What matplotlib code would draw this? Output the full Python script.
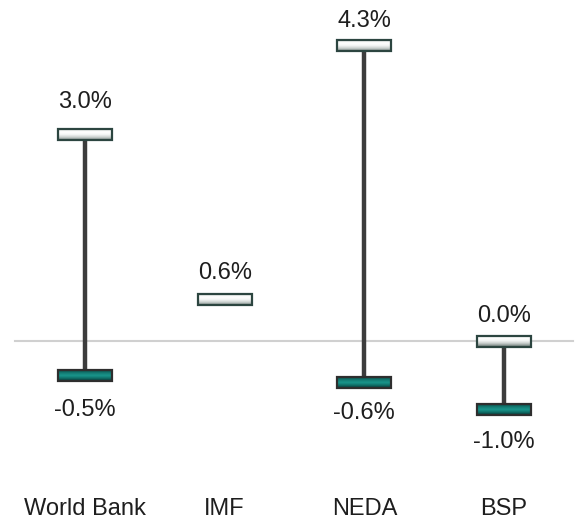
import numpy as np
import matplotlib
matplotlib.use("Agg")
import matplotlib.pyplot as plt
from matplotlib.colors import LinearSegmentedColormap
from matplotlib.patches import Rectangle

categories = ["World Bank", "IMF", "NEDA", "BSP"]
high_values = [3.0, 0.6, 4.3, 0.0]
low_values = [-0.5, None, -0.6, -1.0]
high_labels = ["3.0%", "0.6%", "4.3%", "0.0%"]
low_labels = ["-0.5%", None, "-0.6%", "-1.0%"]

# label distance from cap centre, in pixels (styling)
high_gap_px = [35, 29, 27, 27]
low_gap_px = [32, 0, 28, 30]

plt.rcParams['font.family'] = ['Liberation Sans', 'DejaVu Sans']

fig = plt.figure(figsize=(5.77, 5.23), dpi=100)
ax = fig.add_axes([0, 33 / 523, 1, 490 / 523])

px_x = 139.67
px_y = 68.67
xlim = (-85 / px_x, (577 - 85) / px_x)
ylim = (-(490 - 341) / px_y, 341 / px_y)

cap_w = 54 / px_x
cap_h = 11 / px_y

light_cmap = LinearSegmentedColormap.from_list(
    "light", ["#7d8a86", "#c9cfcd", "#f4f6f5", "#ffffff", "#dfe4e2"])
teal_cmap = LinearSegmentedColormap.from_list(
    "teal", ["#073a36", "#0f6e67", "#1a968c", "#127a72", "#0a4f4a"])
grad = np.linspace(0, 1, 64).reshape(-1, 1)

ax.axhline(0, color="#d0d0d0", lw=1.5, zorder=1, xmin=15 / 577, xmax=573 / 577)


def draw_cap(x, y, cmap, edge):
    ax.imshow(grad, extent=[x - cap_w / 2, x + cap_w / 2, y - cap_h / 2, y + cap_h / 2],
              cmap=cmap, aspect='auto', origin='lower', zorder=4, interpolation='bilinear')
    ax.add_patch(Rectangle((x - cap_w / 2, y - cap_h / 2), cap_w, cap_h,
                           fill=False, edgecolor=edge, lw=1.6, zorder=5))


FS = 17
for i, cat in enumerate(categories):
    hi = high_values[i]
    lo = low_values[i]
    if lo is not None:
        ax.plot([i, i], [lo, hi], color="#3c3c3c", lw=3.2, zorder=2, solid_capstyle='butt')
    draw_cap(i, hi, light_cmap, "#2c4540")
    ax.annotate(high_labels[i], (i, hi), xytext=(0, high_gap_px[i] * 0.72),
                textcoords='offset points', ha='center', va='center_baseline',
                fontsize=FS, color="#1e1e1e")
    if lo is not None:
        draw_cap(i, lo, teal_cmap, "#2e2e2e")
        ax.annotate(low_labels[i], (i, lo), xytext=(0, -low_gap_px[i] * 0.72),
                    textcoords='offset points', ha='center', va='center_baseline',
                    fontsize=FS, color="#1e1e1e")

ax.set_xlim(*xlim)
ax.set_ylim(*ylim)
ax.set_xticks(range(len(categories)))
ax.set_xticklabels(categories, fontsize=FS, color="#1e1e1e")
ax.tick_params(axis='x', length=0, pad=6)
ax.set_yticks([])
for s in ax.spines.values():
    s.set_visible(False)
ax.patch.set_alpha(0)

fig.savefig("out.png", dpi=100, facecolor="white")
